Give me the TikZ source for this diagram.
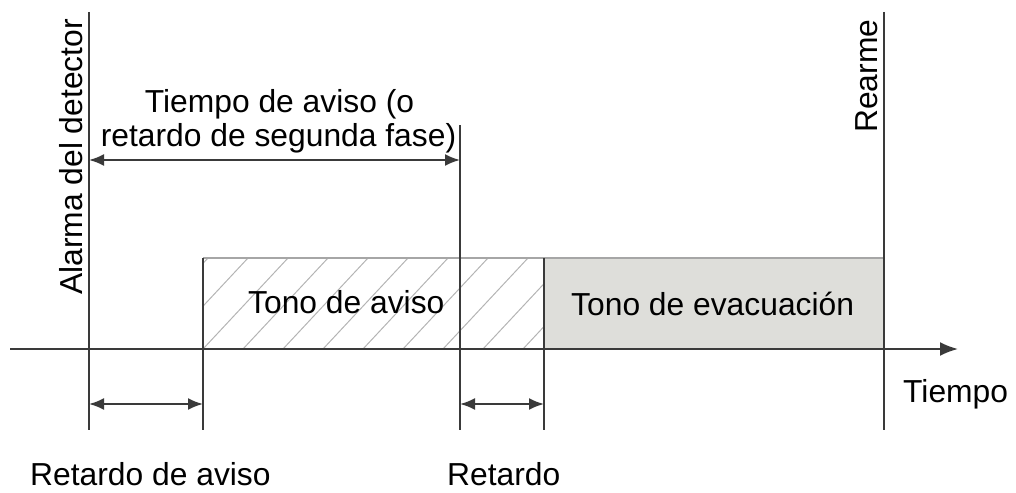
\documentclass[tikz,border=0pt]{standalone}
\usepackage{fontspec}
\setmainfont{Liberation Sans}
\usetikzlibrary{arrows.meta}
\definecolor{linec}{HTML}{3A3A3A}
\definecolor{evac}{HTML}{DEDEDA}
\definecolor{hatchc}{HTML}{B4B4B4}
\begin{document}
\begin{tikzpicture}[x=1pt,y=-1pt,
  vline/.style={draw=linec,line width=2pt},
  dimarrow/.style={draw=linec,line width=2pt,{Latex[length=15pt,width=12pt]}-{Latex[length=15pt,width=12pt]}},
  lbl/.style={font=\fontsize{31.8}{38}\selectfont,inner sep=0pt,text=black}]
\useasboundingbox (0,0) rectangle (1016,492);
% coordinates
\coordinate (a1) at (89,12);   \coordinate (a2) at (89,430);
\coordinate (b1) at (203,258); \coordinate (b2) at (203,430);
\coordinate (c1) at (460,125); \coordinate (c2) at (460,430);
\coordinate (d1) at (544,258); \coordinate (d2) at (544,430);
\coordinate (e1) at (884,12);  \coordinate (e2) at (884,430);
\coordinate (ax0) at (10,349); \coordinate (ax1) at (958,349);
% evacuation box
\fill[evac] (544,258) rectangle (884,349);
% hatching
\begin{scope}
\clip (203,258) rectangle (544,349);
\foreach \k in {-3,...,9} {
  \draw[hatchc,line width=1pt] (203+\k*40,349) -- (203+\k*40+85,258);
}
\end{scope}
\draw[draw=gray!70,line width=1.5pt] (203,258) -- (884,258);
% vertical lines
\draw[vline] (a1) -- (a2);
\draw[vline] (b1) -- (b2);
\draw[vline] (c1) -- (c2);
\draw[vline] (d1) -- (d2);
\draw[vline] (e1) -- (e2);
% axis
\draw[draw=linec,line width=2pt,-{Latex[length=18pt,width=14pt]}] (ax0) -- (ax1);
% dimension arrows
\coordinate (t1) at (89,160);  \coordinate (t2) at (460,160);
\coordinate (r1) at (89,404);  \coordinate (r2) at (203,404);
\coordinate (s1) at (460,404); \coordinate (s2) at (544,404);
\draw[dimarrow] (t1) -- (t2);
\draw[dimarrow] (r1) -- (r2);
\draw[dimarrow] (s1) -- (s2);
% labels
\node[lbl,anchor=base west,rotate=90] (alarma) at (82,295) {Alarma del detector};
\node[lbl,anchor=base west,rotate=90] (rearme) at (877,133) {Rearme};
\node[lbl,anchor=base] (ta1) at (279.5,113) {Tiempo de aviso (o};
\node[lbl,anchor=base] (ta2) at (278.5,146) {retardo de segunda fase)};
\node[lbl,anchor=base west] (tono) at (248,313) {Tono de aviso};
\node[lbl,anchor=base west] (evacl) at (571,315) {Tono de evacuación};
\node[lbl,anchor=base west] (tiempo) at (903,402) {Tiempo};
\node[lbl,anchor=base west] (ret1) at (30,485) {Retardo de aviso};
\node[lbl,anchor=base west] (ret2) at (447,485) {Retardo};
\end{tikzpicture}
\end{document}
